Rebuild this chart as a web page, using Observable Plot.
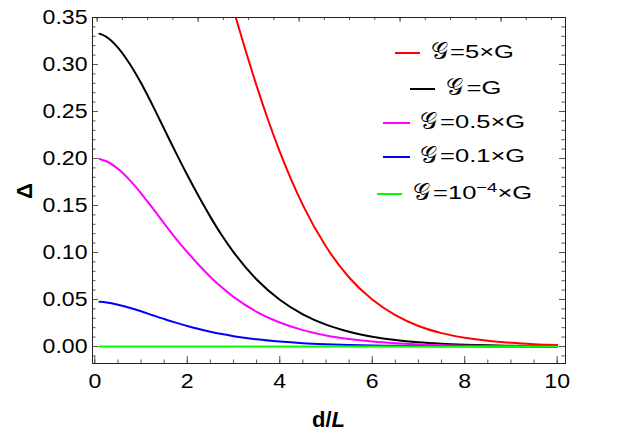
<!DOCTYPE html>
<html><head><meta charset="utf-8">
<script src="https://cdn.jsdelivr.net/npm/d3@7"></script>
<script src="https://cdn.jsdelivr.net/npm/@observablehq/plot@0.6"></script>
<style>body{margin:0;background:#fff} svg{display:block}</style>
</head><body><div id="chart"></div>
<script>
// ---- data ----
const dGrid = [0.1,0.25,0.5,0.75,1,1.25,1.5,1.75,2,2.25,2.5,2.75,3,3.5,4,4.5,5,5.5,6,6.5,7,7.5,8,8.5,9,9.5,10];
const vBlack   = [0.3328,0.3294,0.3180,0.3011,0.2803,0.2565,0.2315,0.2065,0.1824,0.1595,0.1379,0.1180,0.1004,0.0712,0.0497,0.0342,0.0232,0.0156,0.0104,0.0068,0.0044,0.0029,0.0019,0.0012,0.0008,0.0005,0.0003];
const vMagenta = [0.1995,0.1971,0.1890,0.1772,0.1630,0.1471,0.1309,0.1151,0.1004,0.0867,0.0740,0.0627,0.0528,0.0369,0.0255,0.0174,0.0118,0.0079,0.0052,0.0034,0.0022,0.0014,0.0009,0.0006,0.0004,0.0003,0.0002];
const vBlue    = [0.0475,0.0468,0.0445,0.0413,0.0375,0.0333,0.0292,0.0254,0.0218,0.0186,0.0157,0.0132,0.0110,0.0076,0.0052,0.0035,0.0024,0.0016,0.0010,0.0007,0.0004,0.0003,0.0002,0.0001,0.0001,0.0001,0.0000];
const vGreen   = [0,0,0,0,0,0,0,0,0,0,0,0,0,0,0,0,0,0,0,0,0,0,0,0,0,0,0];
const dRed = [3.0,3.25,3.5,3.75,4,4.5,5,5.5,6,6.5,7,7.5,8,8.5,9,9.5,10];
const vRed = [0.358,0.3168,0.2772,0.2407,0.2073,0.1504,0.1063,0.0734,0.0499,0.0333,0.0218,0.0142,0.0093,0.0060,0.0039,0.0025,0.0016];

const seriesColors = ["#ff0000","#000000","#ff00ff","#0000ff","#00ff00"];
// legend texts (after the script-G symbol)
const legendText = [["=5×G"],["=G"],["=0.5×G"],["=0.1×G"],["=10","−4","×G"]];

const xTickLabels = [0,2,4,6,8,10];
const xMinor = d3.range(0,10.01,0.5);
const yTickLabels = [0,0.05,0.10,0.15,0.20,0.25,0.30,0.35];
const yMinor = d3.range(-1,36).map(i=>i/100);
const topMajor = [0.05,2.234,4.418,6.602,8.786];
const topMinor = d3.range(0,19).map(i=>0.05+i*0.546);

// ---- layout ----
const W=631,H=433, mL=92,mR=66,mT=17,mB=70;
const fh=H-mT-mB, fw=W-mL-mR;
const tickCol="#555";
const FONT="'Liberation Sans', Arial, sans-serif";

const rows = (d,v)=>d.map((x,i)=>({d:x,v:v[i]}));
const seriesData = [rows(dRed,vRed),rows(dGrid,vBlack),rows(dGrid,vMagenta),rows(dGrid,vBlue),rows(dGrid,vGreen)];

const svg = Plot.plot({
  width:W,height:H,marginLeft:mL,marginRight:mR,marginTop:mT,marginBottom:mB,
  style:{fontFamily:FONT,fontSize:"21px",background:"#fff",color:"#000"},
  x:{domain:[-0.05,10.18]},
  y:{domain:[-0.0181,0.35]},
  marks:[
    ...seriesData.map((data,i)=>Plot.line(data,{x:"d",y:"v",stroke:seriesColors[i],strokeWidth:2,curve:"monotone-x",clip:true})),
    // inward ticks
    Plot.ruleX(xMinor,{x:d=>d,insetTop:fh-3.5,stroke:tickCol}),
    Plot.ruleX(xTickLabels,{x:d=>d,insetTop:fh-7,stroke:tickCol}),
    Plot.ruleX(topMinor,{x:d=>d,insetBottom:fh-3,stroke:tickCol}),
    Plot.ruleX(topMajor,{x:d=>d,insetBottom:fh-5,stroke:tickCol}),
    Plot.ruleY(yMinor,{y:d=>d,insetRight:fw-3.5,stroke:tickCol}),
    Plot.ruleY(yTickLabels,{y:d=>d,insetRight:fw-6,stroke:tickCol}),
    Plot.ruleY(yMinor,{y:d=>d,insetLeft:fw-3.5,stroke:tickCol}),
    Plot.ruleY(yTickLabels,{y:d=>d,insetLeft:fw-6,stroke:tickCol}),
    Plot.axisX({ticks:xTickLabels,tickSize:0,tickPadding:10,label:null,tickFormat:d=>String(d)}),
    Plot.axisY({ticks:yTickLabels,tickSize:0,tickPadding:5,label:null,tickFormat:d3.format(".2f")}),
    Plot.frame({stroke:"#222",strokeWidth:1})
  ]
});
document.getElementById("chart").appendChild(svg);

const root = d3.select(svg);
// widen tick labels slightly (reference glyphs are horizontally stretched)
root.selectAll('g[aria-label="x-axis tick label"] text, g[aria-label="y-axis tick label"] text')
  .each(function(){ const t=this.getAttribute("transform")||""; this.setAttribute("transform",t+" scale(1.1,1)"); });

// axis titles
root.append("text").attr("transform","translate(24,191) rotate(-90)")
  .attr("text-anchor","middle").attr("dominant-baseline","central")
  .style("font","bold 22px "+FONT).text("Δ");
const xl = root.append("text").attr("x",(mL+W-mR)/2).attr("y",427).attr("text-anchor","middle")
  .style("font","bold 22px "+FONT);
xl.append("tspan").text("d/");
xl.append("tspan").style("font-style","italic").text("L");

// legend (positions measured on the reference)
const legLineY=[53,89,123,157,194];
const legLineX=[[395,420],[410,435],[383,410],[383,410],[377,402]];
const legGx=[439,454,428.5,428.5,421];
const legTx=[450,466.5,440,440,433];
legendText.forEach((parts,i)=>{
  const g = root.append("g");
  g.append("line").attr("x1",legLineX[i][0]).attr("x2",legLineX[i][1]).attr("y1",legLineY[i]).attr("y2",legLineY[i])
    .attr("stroke",seriesColors[i]).attr("stroke-width",2);
  g.append("text").attr("x",legGx[i]).attr("y",legLineY[i]+6).attr("text-anchor","middle")
    .style("font","24px 'DejaVu Sans','Noto Sans',serif").text("𝒢");
  const t = g.append("text").attr("text-anchor","start")
    .attr("transform",`translate(${legTx[i]},${legLineY[i]+5}) scale(1.42,1)`)
    .style("font","18px "+FONT);
  t.append("tspan").text(parts[0]);
  if(parts.length>1){
    t.append("tspan").attr("dy",-7).style("font-size","13px").text(parts[1]);
    t.append("tspan").attr("dy",7).text(parts[2]);
  }
});
</script>
</body></html>
